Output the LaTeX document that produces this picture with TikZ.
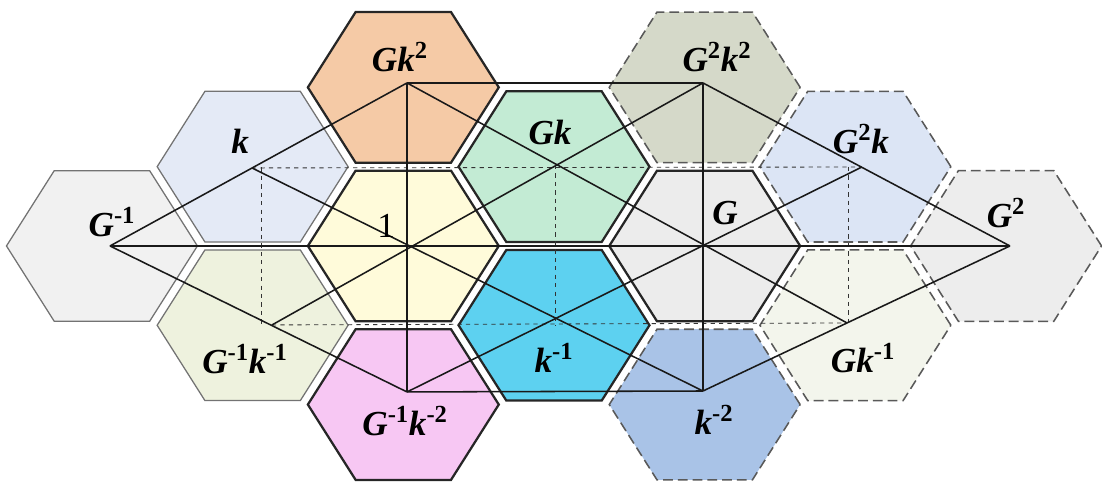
\documentclass[tikz,border=0pt]{standalone}
\usepackage{fontspec}
\setmainfont{Liberation Serif}
\usepackage{xcolor}
\definecolor{ginv}{HTML}{F1F1F1}
\definecolor{kcol}{HTML}{E4EAF6}
\definecolor{giki}{HTML}{EEF2DE}
\definecolor{gkk}{HTML}{F5CAA6}
\definecolor{onecol}{HTML}{FFFBDA}
\definecolor{gikii}{HTML}{F7C7F3}
\definecolor{gkcol}{HTML}{C3EBD4}
\definecolor{kicol}{HTML}{5DD1F0}
\definecolor{gcol}{HTML}{ECECEC}
\definecolor{ggkk}{HTML}{D5D9C9}
\definecolor{ggk}{HTML}{DCE5F5}
\definecolor{ggcol}{HTML}{EDEDED}
\definecolor{gki}{HTML}{F3F5EC}
\definecolor{kii}{HTML}{A9C3E7}
\newcommand\sups[1]{\textsuperscript{\upshape#1}}
\newcommand\hexcell[2]{\draw[#1] (#2) ++(0.633,0) -- ++(-0.317,0.95) -- ++(-0.633,0) -- ++(-0.317,-0.95) -- ++(0.317,-0.95) -- ++(0.633,0) -- cycle;}
\usepackage{tikz}
\usetikzlibrary{calc}
\tikzset{
    hexbold/.style ={draw=black!85, line width=1.6pt},
    hexthin/.style ={draw=black!55, line width=0.9pt},
    hexdashed/.style ={draw=black!65, line width=1.1pt, dash pattern=on 7pt off 3.5pt},
    link/.style = {draw=black!90, line width=1.1pt},
    aux/.style = {draw=black!80, line width=0.6pt, dashed},
    lbl/.style = {font=\fontsize{25}{28}\selectfont\bfseries\itshape, inner sep=0pt},
    one/.style = {font=\fontsize{25}{28}\selectfont, inner sep=0pt}
}

\begin{document}
\begin{tikzpicture}[x={(3.7675cm,0)}, y={(0,1.9825cm)}]
      \useasboundingbox (-2.677,-2.989) rectangle (4.636,3.102);

      \hexcell{hexthin, fill=ginv}{-2,0}
      \hexcell{hexthin, fill=kcol}{-1,1}
      \hexcell{hexthin, fill=giki}{-1,-1}
      \hexcell{hexbold, fill=gkk}{0,2}
      \hexcell{hexbold, fill=onecol}{0,0}
      \hexcell{hexbold, fill=gikii}{0,-2}
      \hexcell{hexbold, fill=gkcol}{1,1}
      \hexcell{hexbold, fill=kicol}{1,-1}
      \hexcell{hexbold, fill=gcol}{2,0}
      \hexcell{hexdashed, fill=ggkk}{2,2}
      \hexcell{hexdashed, fill=kii}{2,-2}
      \hexcell{hexdashed, fill=ggk}{3,1}
      \hexcell{hexdashed, fill=gki}{3,-1}
      \hexcell{hexdashed, fill=ggcol}{4,0}

      \coordinate (pGi) at (-1.947,0);
      \coordinate (pk) at (-1.005,0.984);
      \coordinate (pGiki) at (-0.872,-0.996);
      \coordinate (pGkk) at (0.024,2.056);
      \coordinate (p1) at (0.031,0);
      \coordinate (pGikii) at (0.024,-1.841);
      \coordinate (pGk) at (1.006,1.021);
      \coordinate (pki) at (1.006,-0.908);
      \coordinate (pGGkk) at (1.988,2.056);
      \coordinate (pG) at (1.988,0);
      \coordinate (pkii) at (1.988,-1.829);
      \coordinate (pGGk) at (3.043,0.996);
      \coordinate (pGki) at (2.944,-0.971);
      \coordinate (pGG) at (4.025,0);
      \coordinate (dTL) at (-0.939,0.99);
      \coordinate (dBL) at (-0.939,-0.996);
      \coordinate (dBM) at (1.006,-1.009);
      \coordinate (dTR) at (2.956,0.996);
      \coordinate (dBR) at (2.956,-0.971);

      \path[aux] (pk) edge (pGGk);
      \path[aux] (pGiki) edge (pGki);
      \path[aux] (dTL) edge (dBL);
      \path[aux] (pGk) edge (dBM);
      \path[aux] (dTR) edge (dBR);

      \path[link] (pGi) edge (pGkk);
      \path[link] (pGi) edge (pGikii);
      \path[link] (pGi) edge (pGG);
      \path[link] (pGkk) edge (pGGkk);
      \path[link] (pGikii) edge (pkii);
      \path[link] (pGkk) edge (pGikii);
      \path[link] (pGGkk) edge (pkii);
      \path[link] (pGGkk) edge (pGG);
      \path[link] (pkii) edge (pGG);
      \path[link] (pk) edge (pkii);
      \path[link] (pGiki) edge (pGGkk);
      \path[link] (pGkk) edge (pGki);
      \path[link] (pGikii) edge (pGGk);

      \node[lbl] (Gi) at (-1.934,0.303) {G\sups{-1}};
      \node[lbl] (k) at (-1.084,1.324) {k};
      \node[lbl] (Gkk) at (-0.023,2.383) {Gk\sups{2}};
      \node[one] (one) at (-0.115,0.252) {1};
      \node[lbl] (Gk) at (0.973,1.425) {Gk};
      \node[lbl] (GGkk) at (2.081,2.383) {G\sups{2}k\sups{2}};
      \node[lbl] (GGk) at (3.036,1.349) {G\sups{2}k};
      \node[lbl] (G) at (2.134,0.416) {G};
      \node[lbl] (GG) at (3.999,0.416) {G\sups{2}};
      \node[lbl] (Giki) at (-1.051,-1.425) {G\sups{-1}k\sups{-1}};
      \node[lbl] (ki) at (0.999,-1.412) {k\sups{-1}};
      \node[lbl] (Gikii) at (0.011,-2.207) {G\sups{-1}k\sups{-2}};
      \node[lbl] (kii) at (2.061,-2.194) {k\sups{-2}};
      \node[lbl] (Gki) at (3.050,-1.412) {Gk\sups{-1}};
\end{tikzpicture}
\end{document}
